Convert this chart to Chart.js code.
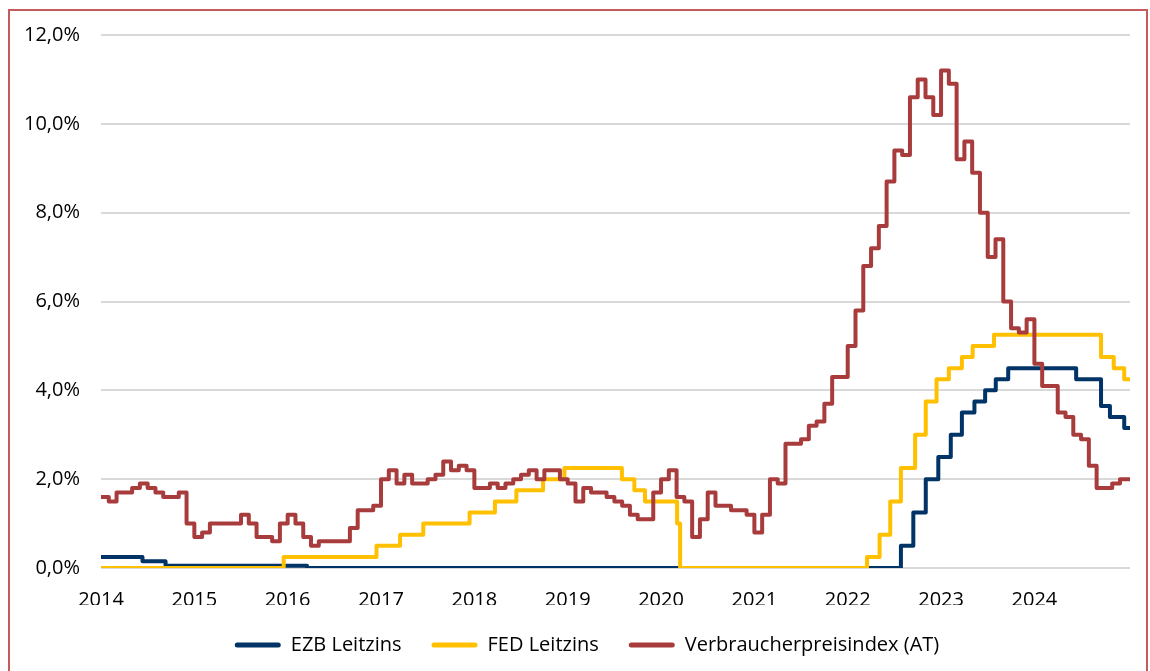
<!DOCTYPE html>
<html><head><meta charset="utf-8">
<script src="https://cdn.jsdelivr.net/npm/chart.js@4.4.1/dist/chart.umd.min.js"></script>
<style>
html,body{margin:0;padding:0;background:#fff;}
#wrap{position:relative;width:1150px;height:671px;overflow:hidden;background:#fff;}
#frame{position:absolute;left:8px;top:9px;width:1140px;height:720px;border:2px solid #C65B5B;box-sizing:border-box;}
canvas{position:absolute;left:0;top:0;}
</style></head><body>
<div id="wrap"><div id="frame"></div><canvas id="c" width="1150" height="671"></canvas></div>
<script>
// ---- data ----
const years = ['2014','2015','2016','2017','2018','2019','2020','2021','2022','2023','2024'];

// Verbraucherpreisindex (AT), monthly, Jan 2014 .. Dec 2024 (in %)
const cpi2014 = [1.6, 1.5, 1.7, 1.7, 1.8, 1.9, 1.8, 1.7, 1.6, 1.6, 1.7, 1.0];
const cpi2015 = [0.7, 0.8, 1.0, 1.0, 1.0, 1.0, 1.2, 1.0, 0.7, 0.7, 0.6, 1.0];
const cpi2016 = [1.2, 1.0, 0.7, 0.5, 0.6, 0.6, 0.6, 0.6, 0.9, 1.3, 1.3, 1.4];
const cpi2017 = [2.0, 2.2, 1.9, 2.1, 1.9, 1.9, 2.0, 2.1, 2.4, 2.2, 2.3, 2.2];
const cpi2018 = [1.8, 1.8, 1.9, 1.8, 1.9, 2.0, 2.1, 2.2, 2.0, 2.2, 2.2, 2.0];
const cpi2019 = [1.9, 1.5, 1.8, 1.7, 1.7, 1.6, 1.5, 1.4, 1.2, 1.1, 1.1, 1.7];
const cpi2020 = [2.0, 2.2, 1.6, 1.5, 0.7, 1.1, 1.7, 1.4, 1.4, 1.3, 1.3, 1.2];
const cpi2021 = [0.8, 1.2, 2.0, 1.9, 2.8, 2.8, 2.9, 3.2, 3.3, 3.7, 4.3, 4.3];
const cpi2022 = [5.0, 5.8, 6.8, 7.2, 7.7, 8.7, 9.4, 9.3, 10.6, 11.0, 10.6, 10.2];
const cpi2023 = [11.2, 10.9, 9.2, 9.6, 8.9, 8.0, 7.0, 7.4, 6.0, 5.4, 5.3, 5.6];
const cpi2024 = [4.6, 4.1, 4.1, 3.5, 3.4, 3.0, 2.9, 2.3, 1.8, 1.8, 1.9, 2.0];

// EZB Leitzins (Hauptrefinanzierungssatz): dates of change and new rate
const ezbDates = ['2014-01-01','2014-06-11','2014-09-10','2016-03-16','2022-07-27','2022-09-14','2022-11-02','2022-12-21','2023-02-08','2023-03-22','2023-05-10','2023-06-21','2023-08-02','2023-09-20','2024-06-12','2024-09-18','2024-10-23','2024-12-18'];
const ezbRates = [0.25, 0.15, 0.05, 0.00, 0.50, 1.25, 2.00, 2.50, 3.00, 3.50, 3.75, 4.00, 4.25, 4.50, 4.25, 3.65, 3.40, 3.15];

// FED Leitzins (lower bound): dates of change and new rate
const fedDates = ['2014-01-01','2015-12-16','2016-12-14','2017-03-15','2017-06-14','2017-12-13','2018-03-21','2018-06-13','2018-09-26','2018-12-19','2019-07-31','2019-09-18','2019-10-30','2020-03-03','2020-03-15','2022-03-16','2022-05-04','2022-06-15','2022-07-27','2022-09-21','2022-11-02','2022-12-14','2023-02-01','2023-03-22','2023-05-03','2023-07-26','2024-09-18','2024-11-07','2024-12-18'];
const fedRates = [0.00, 0.25, 0.50, 0.75, 1.00, 1.25, 1.50, 1.75, 2.00, 2.25, 2.00, 1.75, 1.50, 1.00, 0.00, 0.25, 0.75, 1.50, 2.25, 3.00, 3.75, 4.25, 4.50, 4.75, 5.00, 5.25, 4.75, 4.50, 4.25];

const seriesEnd = '2025-01-10';

// ---- build ----
const cpiMonthly = [].concat(cpi2014, cpi2015, cpi2016, cpi2017, cpi2018, cpi2019, cpi2020, cpi2021, cpi2022, cpi2023, cpi2024);
function monthPos(s){
  const p = s.split('-').map(Number);
  const dim = new Date(p[0], p[1], 0).getDate();
  return (p[0]-2014)*12 + (p[1]-1) + (p[2]-1)/dim;
}
const endX = monthPos(seriesEnd);
function stepPoints(dates, rates){
  const pts = dates.map((d,i)=>({x: monthPos(d), y: rates[i]}));
  pts.push({x: endX, y: rates[rates.length-1]});
  return pts;
}
const cpiPoints = cpiMonthly.map((v,i)=>({x:i, y:v}));
cpiPoints.push({x: endX, y: cpiMonthly[cpiMonthly.length-1]});

const FONT = {family: "'Open Sans', 'Noto Sans', sans-serif", size: 20};
const common = {borderWidth: 4, pointRadius: 0, pointHoverRadius: 0, fill: false, stepped: 'before', tension: 0, borderJoinStyle: 'round', borderCapStyle: 'round'};

// shift the legend block slightly right (centre under the plot as in the original)
const legendShift = {
  id: 'legendShift',
  beforeDraw(chart){
    if (chart.legend && !chart.legend._shifted){ chart.legend.left += 29; chart.legend._shifted = true; }
  }
};

new Chart(document.getElementById('c'), {
  type: 'line',
  plugins: [legendShift],
  data: {
    datasets: [
      Object.assign({label: 'EZB Leitzins', data: stepPoints(ezbDates, ezbRates), borderColor: '#003366', backgroundColor: '#003366', order: 2}, common),
      Object.assign({label: 'FED Leitzins', data: stepPoints(fedDates, fedRates), borderColor: '#FFC000', backgroundColor: '#FFC000', order: 1}, common),
      Object.assign({label: 'Verbraucherpreisindex (AT)', data: cpiPoints, borderColor: '#A83B3B', backgroundColor: '#A83B3B', order: 0}, common)
    ]
  },
  options: {
    responsive: false,
    animation: false,
    devicePixelRatio: 1,
    layout: {padding: {top: 35, left: 15, right: 20, bottom: 6}},
    plugins: {
      tooltip: {enabled: false},
      legend: {
        position: 'bottom',
        labels: {
          boxWidth: 46, boxHeight: 5, padding: 30, color: '#000', font: FONT,
          sort: (a,b) => a.datasetIndex - b.datasetIndex,
          generateLabels: chart => chart.data.datasets.map((ds,i)=>({
            text: ds.label, fillStyle: ds.borderColor, strokeStyle: ds.borderColor,
            lineWidth: 0, hidden: false, datasetIndex: i, fontColor: '#000', borderRadius: 2.5
          }))
        }
      }
    },
    scales: {
      x: {
        type: 'linear', min: 0, max: endX,
        grid: {display: false}, border: {display: false},
        afterBuildTicks: s => { s.ticks = years.map((y,i)=>({value: i*12})); },
        ticks: {autoSkip: false, maxRotation: 0, padding: 12, color: '#000', font: FONT,
          callback: v => years[Math.round(v/12)] || ''},
        afterFit: s => { s.height = 37; }
      },
      y: {
        min: 0, max: 12,
        ticks: {stepSize: 2, padding: 21, color: '#000', font: FONT,
          callback: v => Number(v).toFixed(1).replace('.', ',') + '%'},
        grid: {color: '#d9d9d9', lineWidth: 2, drawTicks: false},
        border: {display: false},
        afterFit: s => { s.width = 86; }
      }
    }
  }
});
</script>
</body></html>
